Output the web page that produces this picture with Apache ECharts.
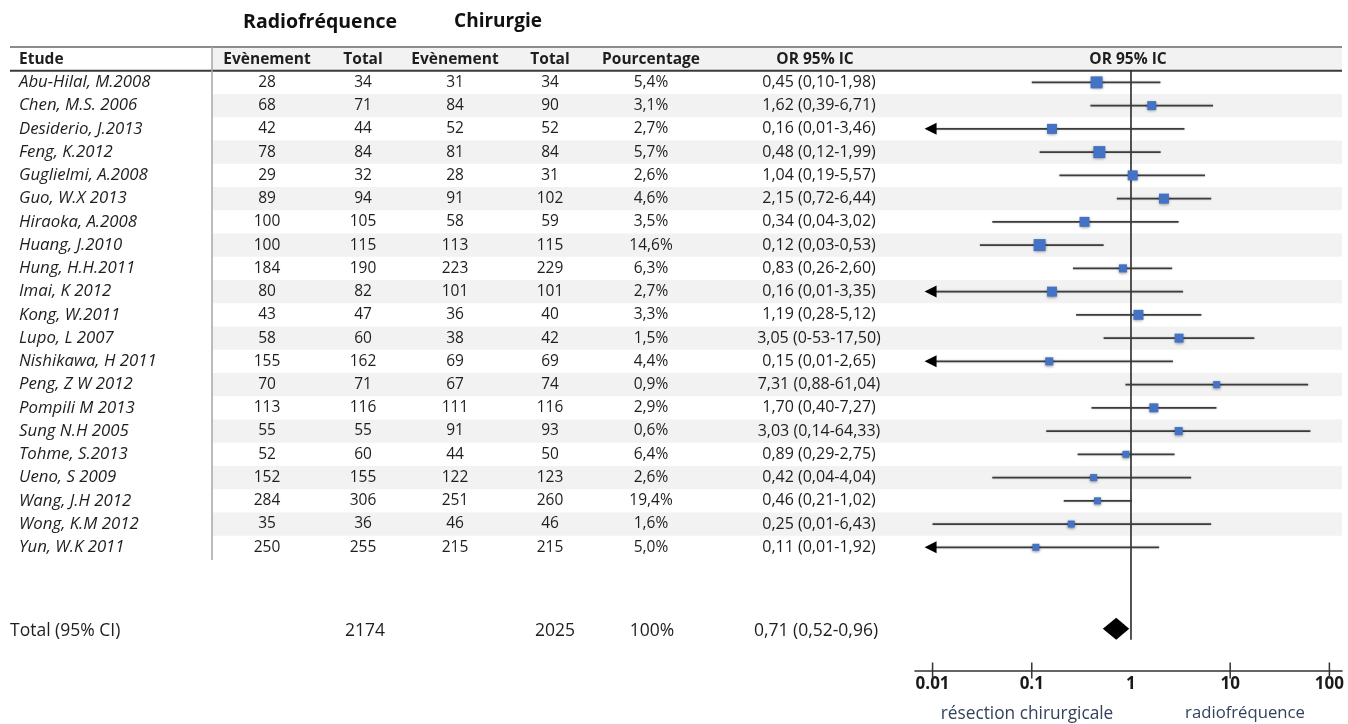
<!DOCTYPE html>
<html>
<head>
<meta charset="utf-8">
<script src="https://cdn.jsdelivr.net/npm/echarts@6/dist/echarts.min.js"></script>
<style>
html,body{margin:0;padding:0;background:#fff;}
#chart{width:1348px;height:724px;}
</style>
</head>
<body>
<div id="chart"></div>
<script>
// ---------------- DATA ----------------
const studies = ['Abu-Hilal, M.2008','Chen, M.S. 2006','Desiderio, J.2013','Feng, K.2012','Guglielmi, A.2008','Guo, W.X 2013','Hiraoka, A.2008','Huang, J.2010','Hung, H.H.2011','Imai, K 2012','Kong, W.2011','Lupo, L 2007','Nishikawa, H 2011','Peng, Z W 2012','Pompili M 2013','Sung N.H 2005','Tohme, S.2013','Ueno, S 2009','Wang, J.H 2012','Wong, K.M 2012','Yun, W.K 2011'];
const rfEvents = [28,68,42,78,29,89,100,100,184,80,43,58,155,70,113,55,52,152,284,35,250];
const rfTotal  = [34,71,44,84,32,94,105,115,190,82,47,60,162,71,116,55,60,155,306,36,255];
const chEvents = [31,84,52,81,28,91,58,113,223,101,36,38,69,67,111,91,44,122,251,46,215];
const chTotal  = [34,90,52,84,31,102,59,115,229,101,40,42,69,74,116,93,50,123,260,46,215];
const weights  = ['5,4%','3,1%','2,7%','5,7%','2,6%','4,6%','3,5%','14,6%','6,3%','2,7%','3,3%','1,5%','4,4%','0,9%','2,9%','0,6%','6,4%','2,6%','19,4%','1,6%','5,0%'];
const orValues = [0.45,1.62,0.16,0.48,1.04,2.15,0.34,0.12,0.83,0.16,1.19,3.05,0.15,7.31,1.70,3.03,0.89,0.42,0.46,0.25,0.11];
const ciLow    = [0.10,0.39,0.01,0.12,0.19,0.72,0.04,0.03,0.26,0.01,0.28,0.53,0.01,0.88,0.40,0.14,0.29,0.04,0.21,0.01,0.01];
const ciHigh   = [1.98,6.71,3.46,1.99,5.57,6.44,3.02,0.53,2.60,3.35,5.12,17.50,2.65,61.04,7.27,64.33,2.75,4.04,1.02,6.43,1.92];
// rows whose interval is drawn with a left arrow in the figure
const leftArrow = [false,false,true,false,false,false,false,false,false,true,false,false,true,false,false,false,false,false,false,false,true];
const orTexts  = ['0,45 (0,10-1,98)','1,62 (0,39-6,71)','0,16 (0,01-3,46)','0,48 (0,12-1,99)','1,04 (0,19-5,57)','2,15 (0,72-6,44)','0,34 (0,04-3,02)','0,12 (0,03-0,53)','0,83 (0,26-2,60)','0,16 (0,01-3,35)','1,19 (0,28-5,12)','3,05 (0-53-17,50)','0,15 (0,01-2,65)','7,31 (0,88-61,04)','1,70 (0,40-7,27)','3,03 (0,14-64,33)','0,89 (0,29-2,75)','0,42 (0,04-4,04)','0,46 (0,21-1,02)','0,25 (0,01-6,43)','0,11 (0,01-1,92)'];
const totalLabel = 'Total (95% CI)';
const totalRf = 2174;
const totalCh = 2025;
const totalPct = '100%';
const totalOR = 0.71, totalLow = 0.52, totalHigh = 0.96;
const totalORText = '0,71 (0,52-0,96)';
const headers = ['Etude','Evènement','Total','Evènement','Total','Pourcentage','OR 95% IC','OR 95% IC'];
const groupHeaders = ['Radiofréquence','Chirurgie'];
const tickValues = [0.01, 0.1, 1, 10, 100];
const tickLabels = ['0.01', '0.1', '1', '10', '100'];
const sideLabels = ['résection chirurgicale', 'radiofréquence'];

// ---------------- STYLE / LAYOUT ----------------
const FONT = '"Open Sans"';
const TXT = '#1e1e1e';
const markerSize = [12,9,10,12,10,10,10,12,8,10,10,9,8,7,9,8,7,7,7,7,7];
const COL = {etude:19, ev1:267, tot1:363, ev2:455, tot2:550, pct:651, or:818, plot:1128, totalLabel:10};
const TABLE_LEFT = 10, DIVIDER = 212, TABLE_RIGHT = 1342;
const ROW_MIN = -1.5, ROW_MAX = 25.3;
const HEADER_ROW = -1;
const TOTAL_ROW = 23.5;
const GRID_TOP = 47.5, GRID_H = 623;

const chart = echarts.init(document.getElementById('chart'), null, {renderer:'canvas'});

function textSeries(xPos, row, texts, font, align, color) {
  const rows = Array.isArray(row) ? row : texts.map(() => row);
  return {
    type: 'custom', xAxisIndex: 0, yAxisIndex: 0, silent: true, z: 5,
    data: texts.map((t, i) => [xPos, rows[i]]),
    renderItem: (params, api) => {
      const p = api.coord([api.value(0), api.value(1)]);
      return {type: 'text', x: p[0], y: p[1], style: {
        text: String(texts[params.dataIndex]), font: font, fill: color || TXT,
        align: align || 'center', verticalAlign: 'middle'}};
    }
  };
}

const studyRows = studies.map((s, i) => i);
const rowFont = '15.5px ' + FONT;
const italicFont = 'italic 16.8px ' + FONT;
const boldFont = 'bold 15.5px ' + FONT;

const series = [];

// shaded rows
series.push({
  type: 'custom', xAxisIndex: 0, yAxisIndex: 0, silent: true, z: 1,
  data: studyRows.filter(i => i % 2 === 1).concat([HEADER_ROW]).map(r => [DIVIDER, r]),
  renderItem: (params, api) => {
    const r = api.value(1);
    const a = api.coord([DIVIDER, r - 0.5]);
    const b = api.coord([TABLE_RIGHT, r + 0.5]);
    return {type: 'rect', shape: {x: a[0], y: a[1], width: b[0] - a[0], height: b[1] - a[1]},
      style: {fill: '#f2f2f2'}};
  }
});

// table frame lines
series.push({
  type: 'custom', xAxisIndex: 0, yAxisIndex: 0, silent: true, z: 2,
  data: [[0, 0]],
  renderItem: (params, api) => {
    const topY = api.coord([0, HEADER_ROW - 0.52])[1];
    const hdrY = api.coord([0, HEADER_ROW + 0.5])[1];
    const lastY = api.coord([0, studies.length - 0.5])[1];
    const xl = api.coord([TABLE_LEFT, 0])[0];
    const xr = api.coord([TABLE_RIGHT, 0])[0];
    const xd = api.coord([DIVIDER, 0])[0];
    return {type: 'group', children: [
      {type: 'line', shape: {x1: xl, y1: topY, x2: xr, y2: topY}, style: {stroke: '#8c8c8c', lineWidth: 2}},
      {type: 'line', shape: {x1: xl, y1: hdrY, x2: xr, y2: hdrY}, style: {stroke: '#3a3a3a', lineWidth: 1.8}},
      {type: 'line', shape: {x1: xd, y1: topY, x2: xd, y2: lastY + 1}, style: {stroke: '#a6a6a6', lineWidth: 1.5}}
    ]};
  }
});

// header row
const headerX = [COL.etude, COL.ev1, COL.tot1, COL.ev2, COL.tot2, COL.pct, COL.or - 3, COL.plot];
headers.forEach((h, i) => {
  series.push(textSeries(headerX[i], HEADER_ROW, [h], boldFont, i === 0 ? 'left' : 'center'));
});

// body
series.push(textSeries(COL.etude, studyRows, studies, italicFont, 'left'));
series.push(textSeries(COL.ev1, studyRows, rfEvents, rowFont));
series.push(textSeries(COL.tot1, studyRows, rfTotal, rowFont));
series.push(textSeries(COL.ev2, studyRows, chEvents, rowFont));
series.push(textSeries(COL.tot2, studyRows, chTotal, rowFont));
series.push(textSeries(COL.pct, studyRows, weights, rowFont));
series.push(textSeries(COL.or + 1, studyRows, orTexts, '16px ' + FONT));

// total row
const totFont = '17.5px ' + FONT;
series.push(textSeries(COL.totalLabel, TOTAL_ROW + 0.12, [totalLabel], totFont, 'left'));
series.push(textSeries(COL.tot1 + 2, TOTAL_ROW + 0.12, [totalRf], totFont));
series.push(textSeries(COL.tot2 + 5, TOTAL_ROW + 0.12, [totalCh], totFont));
series.push(textSeries(COL.pct + 1, TOTAL_ROW + 0.12, [totalPct], totFont));
series.push(textSeries(COL.or - 2, TOTAL_ROW + 0.12, [totalORText], totFont));

// reference line at OR = 1
series.push({
  type: 'line', xAxisIndex: 1, yAxisIndex: 1, silent: true, z: 6,
  symbol: 'none', data: [[1, HEADER_ROW + 0.5], [1, TOTAL_ROW + 0.48]],
  lineStyle: {color: '#2a2a2a', width: 1.6}
});

// confidence intervals
series.push({
  type: 'custom', xAxisIndex: 1, yAxisIndex: 1, silent: true, z: 7,
  data: studies.map((s, i) => [orValues[i], i, ciLow[i], ciHigh[i]]),
  encode: {x: 0, y: 1},
  renderItem: (params, api) => {
    const r = api.value(1);
    const lo = api.coord([api.value(2), r]);
    const hi = api.coord([api.value(3), r]);
    const ch = [{type: 'line', shape: {x1: lo[0], y1: lo[1], x2: hi[0], y2: hi[1]},
      style: {stroke: '#3c3c3c', lineWidth: 1.8, shadowBlur: 2, shadowColor: 'rgba(0,0,0,0.25)'}}];
    if (leftArrow[params.dataIndex]) {
      ch.push({type: 'polygon', shape: {points: [[lo[0] - 8, lo[1]], [lo[0] + 4, lo[1] - 6], [lo[0] + 4, lo[1] + 6]]},
        style: {fill: '#000'}});
    }
    return {type: 'group', children: ch};
  }
});

// point estimates
series.push({
  type: 'scatter', xAxisIndex: 1, yAxisIndex: 1, silent: true, z: 8,
  symbol: 'rect',
  symbolSize: (v, p) => markerSize[p.dataIndex],
  data: studies.map((s, i) => [orValues[i], i]),
  itemStyle: {color: '#4472c4', opacity: 1, shadowBlur: 3, shadowColor: 'rgba(0,0,0,0.45)', shadowOffsetY: 1}
});

// pooled diamond
series.push({
  type: 'custom', xAxisIndex: 1, yAxisIndex: 1, silent: true, z: 8,
  data: [[totalOR, TOTAL_ROW, totalLow, totalHigh]],
  encode: {x: 0, y: 1},
  renderItem: (params, api) => {
    const r = api.value(1);
    const c = api.coord([api.value(0), r]);
    const lo = api.coord([api.value(2), r]);
    const hi = api.coord([api.value(3), r]);
    return {type: 'polygon', shape: {points: [[lo[0], c[1]], [c[0], c[1] - 11], [hi[0], c[1]], [c[0], c[1] + 11]]},
      style: {fill: '#000'}};
  }
});

// axis ticks crossing the axis line
series.push({
  type: 'custom', xAxisIndex: 1, yAxisIndex: 1, silent: true, z: 6,
  data: tickValues.filter(v => v !== 1).map(v => [v, ROW_MAX]),
  renderItem: (params, api) => {
    const p = api.coord([api.value(0), api.value(1)]);
    return {type: 'line', shape: {x1: p[0], y1: p[1] - 8, x2: p[0], y2: p[1] + 8},
      style: {stroke: '#333', lineWidth: 1.5}};
  }
});

const option = {
  backgroundColor: '#fff',
  animation: false,
  textStyle: {fontFamily: 'Open Sans'},
  grid: [
    {left: 0, right: 0, top: GRID_TOP, height: GRID_H},
    {left: 915, right: 6, top: GRID_TOP, height: GRID_H}
  ],
  xAxis: [
    {type: 'value', gridIndex: 0, min: 0, max: 1348, show: false},
    {type: 'log', gridIndex: 1, logBase: 10, min: 0.00665, max: 134,
      axisLine: {show: true, onZero: false, lineStyle: {color: '#333', width: 1.6}},
      axisTick: {show: false},
      splitLine: {show: false},
      axisLabel: {
        customValues: tickValues,
        margin: 5,
        fontFamily: 'Open Sans', fontWeight: 'bold', fontSize: 17, color: '#1a1a1a',
        formatter: (v) => {
          let best = 0;
          tickValues.forEach((t, i) => { if (Math.abs(Math.log10(t) - Math.log10(v)) < Math.abs(Math.log10(tickValues[best]) - Math.log10(v))) best = i; });
          return tickLabels[best];
        }
      }
    }
  ],
  yAxis: [
    {type: 'value', gridIndex: 0, min: ROW_MIN, max: ROW_MAX, inverse: true, show: false},
    {type: 'value', gridIndex: 1, min: ROW_MIN, max: ROW_MAX, inverse: true, show: false}
  ],
  graphic: [
    {type: 'text', x: 320, y: 22, style: {text: groupHeaders[0], font: 'bold 19.5px ' + FONT, fill: '#111', align: 'center', verticalAlign: 'middle'}},
    {type: 'text', x: 498, y: 22, style: {text: groupHeaders[1], font: 'bold 19px ' + FONT, fill: '#111', align: 'center', verticalAlign: 'middle'}},
    {type: 'text', x: 1027, y: 714, style: {text: sideLabels[0], font: '17.3px ' + FONT, fill: '#34425a', align: 'center', verticalAlign: 'middle'}},
    {type: 'text', x: 1245, y: 713, style: {text: sideLabels[1], font: '16.7px ' + FONT, fill: '#34425a', align: 'center', verticalAlign: 'middle'}}
  ],
  series: series
};
chart.setOption(option);
</script>
</body>
</html>
